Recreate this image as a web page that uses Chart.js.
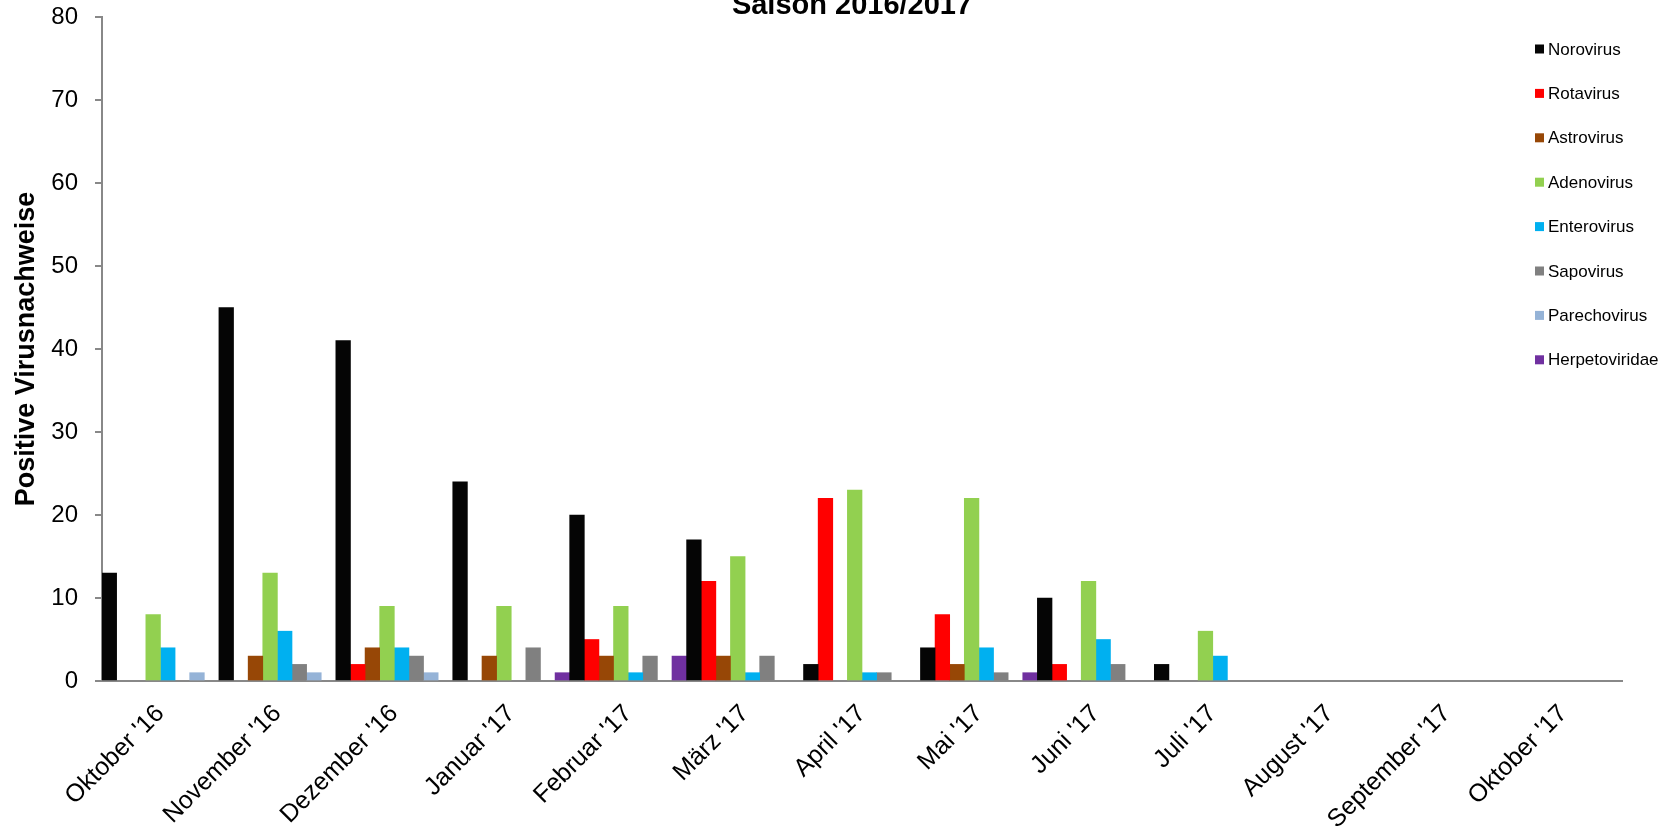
<!DOCTYPE html>
<html>
<head>
<meta charset="utf-8">
<script src="https://cdn.jsdelivr.net/npm/chart.js@4"></script>
<style>
  html, body { margin: 0; padding: 0; background: #fff; }
  #wrap { width: 1668px; height: 835px; position: relative; }
</style>
</head>
<body>
<div id="wrap"><canvas id="chart"></canvas></div>
<script>
// Saison 2016/2017 - positive Virusnachweise pro Monat
const months = ["Oktober '16", "November '16", "Dezember '16", "Januar '17", "Februar '17", "März '17",
  "April '17", "Mai '17", "Juni '17", "Juli '17", "August '17", "September '17", "Oktober '17"];

const norovirus     = [13, 45, 41, 24, 20, 17, 2, 4, 10, 2, 0, 0, 0];
const rotavirus     = [0, 0, 2, 0, 5, 12, 22, 8, 2, 0, 0, 0, 0];
const astrovirus    = [0, 3, 4, 3, 3, 3, 0, 2, 0, 0, 0, 0, 0];
const adenovirus    = [8, 13, 9, 9, 9, 15, 23, 22, 12, 6, 0, 0, 0];
const enterovirus   = [4, 6, 4, 0, 1, 1, 1, 4, 5, 3, 0, 0, 0];
const sapovirus     = [0, 2, 3, 4, 3, 3, 1, 1, 2, 0, 0, 0, 0];
const parechovirus  = [1, 1, 1, 0, 0, 0, 0, 0, 0, 0, 0, 0, 0];
const herpetoviridae = [0, 0, 0, 1, 3, 0, 0, 1, 0, 0, 0, 0, 0];

const yTicks = [0, 10, 20, 30, 40, 50, 60, 70, 80];

const series = [
  { label: 'Norovirus', data: norovirus, color: '#050505' },
  { label: 'Rotavirus', data: rotavirus, color: '#ff0000' },
  { label: 'Astrovirus', data: astrovirus, color: '#974706' },
  { label: 'Adenovirus', data: adenovirus, color: '#92d050' },
  { label: 'Enterovirus', data: enterovirus, color: '#00b0f0' },
  { label: 'Sapovirus', data: sapovirus, color: '#808080' },
  { label: 'Parechovirus', data: parechovirus, color: '#95b3d7' },
  { label: 'Herpetoviridae', data: herpetoviridae, color: '#7030a0' }
];

const axisGray = '#888888';
const FONT = '"Liberation Sans", Arial, sans-serif';

// Titel und Legende liegen wie im Original über dem Diagramm
const overlay = {
  id: 'overlay',
  afterDraw(chart) {
    const ctx = chart.ctx;
    ctx.save();
    ctx.fillStyle = '#000';
    ctx.font = 'bold 29px ' + FONT;
    ctx.textAlign = 'center';
    ctx.textBaseline = 'alphabetic';
    ctx.fillText('Saison 2016/2017', 852, 14);

    ctx.font = '17px ' + FONT;
    ctx.textAlign = 'left';
    ctx.textBaseline = 'middle';
    chart.data.datasets.forEach((ds, i) => {
      const y = 49 + i * 44.4;
      ctx.fillStyle = ds.backgroundColor;
      ctx.fillRect(1535, y - 4.5, 9, 9);
      ctx.fillStyle = '#000';
      ctx.fillText(ds.label, 1548, y + 1);
    });
    ctx.restore();
  }
};

new Chart(document.getElementById('chart'), {
  type: 'bar',
  data: {
    labels: months,
    // leere Monate (0) gar nicht zeichnen
    datasets: series.map(s => ({
      label: s.label,
      data: s.data.map(v => (v === 0 ? null : v)),
      backgroundColor: s.color,
      borderWidth: 0,
      categoryPercentage: 1,
      barPercentage: 1
    }))
  },
  options: {
    responsive: true,
    maintainAspectRatio: false,
    animation: false,
    layout: { padding: { top: 0, right: 46, left: 0, bottom: 0 } },
    plugins: {
      legend: { display: false },
      title: { display: false },
      tooltip: { enabled: false }
    },
    scales: {
      x: {
        afterFit: scale => { scale.height = 154; },
        grid: { display: false },
        border: { display: true, color: axisGray, width: 2 },
        ticks: {
          color: '#000',
          font: { family: FONT, size: 25 },
          minRotation: 45,
          maxRotation: 45,
          padding: 10,
          autoSkip: false
        }
      },
      y: {
        min: 0,
        max: 80,
        afterFit: scale => {
          scale.width = 102;
          scale.paddingTop = 17;
          scale.paddingBottom = 0;
        },
        afterBuildTicks: scale => { scale.ticks = yTicks.map(v => ({ value: v })); },
        grid: {
          drawOnChartArea: false,
          drawTicks: true,
          tickLength: 7,
          color: axisGray,
          lineWidth: 2
        },
        border: { display: true, color: axisGray, width: 2 },
        ticks: {
          color: '#000',
          font: { family: FONT, size: 24 },
          padding: 17
        },
        title: {
          display: true,
          text: 'Positive Virusnachweise',
          color: '#000',
          font: { family: FONT, size: 27, weight: 'bold' },
          padding: { top: 10, bottom: 0 }
        }
      }
    }
  },
  plugins: [overlay]
});
</script>
</body>
</html>
